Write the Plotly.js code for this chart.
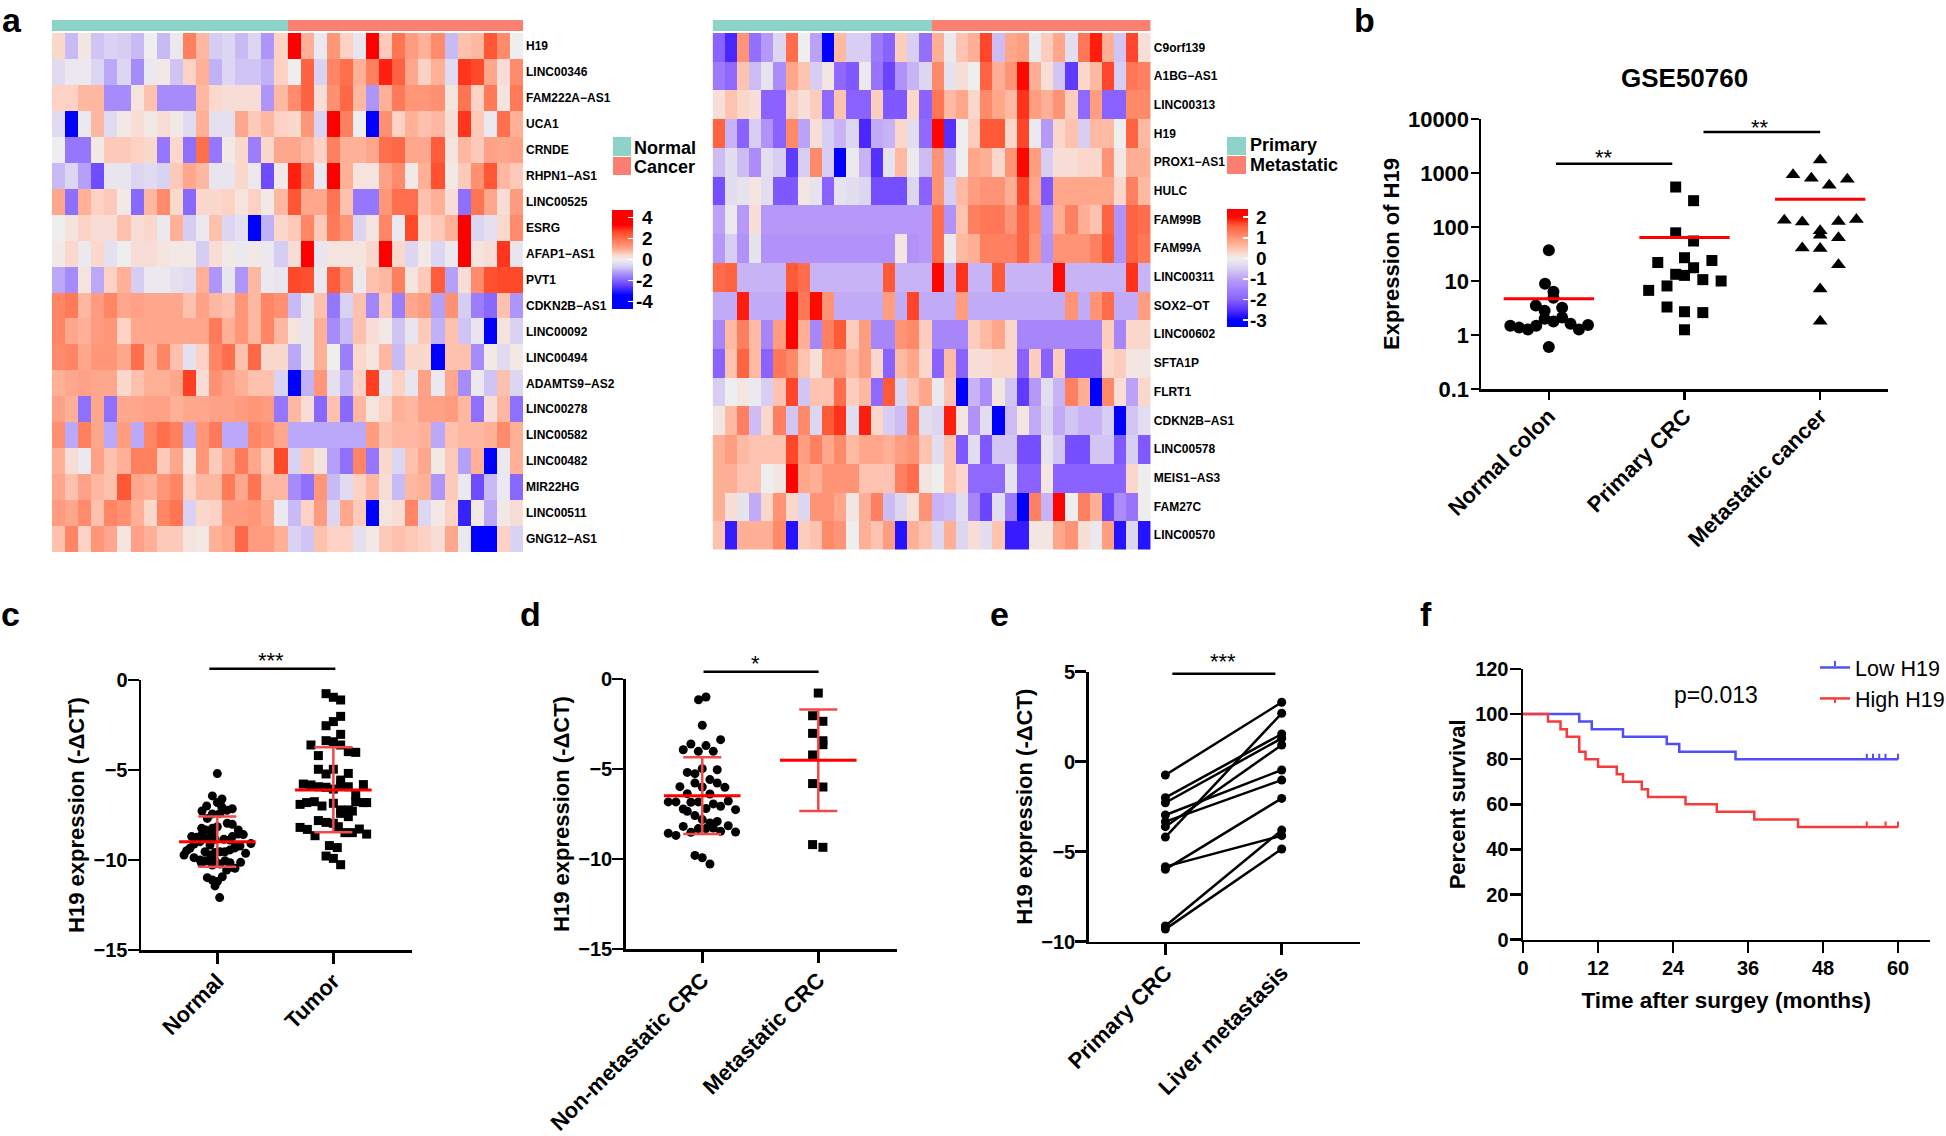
<!DOCTYPE html>
<html>
<head>
<meta charset="utf-8">
<script src="https://cdn.plot.ly/plotly-3.0.1.min.js"></script>
<style>html,body{margin:0;padding:0;background:#fff}</style>
</head>
<body>
<div id="plotArea" style="width:1946px;height:1136px"></div>
<script>
// panel a, left heatmap
var heat1Genes = ["H19","LINC00346","FAM222A−AS1","UCA1","CRNDE","RHPN1−AS1","LINC00525","ESRG","AFAP1−AS1","PVT1","CDKN2B−AS1","LINC00092","LINC00494","ADAMTS9−AS2","LINC00278","LINC00582","LINC00482","MIR22HG","LINC00511","GNG12−AS1"];
var heat1Rows = [
[0.4,-0.9,0.15,-0.8,-0.6,-0.7,-0.9,0,-0.9,-0.1,1.7,0.8,-0.7,-0.5,-0.9,-0.5,-1.3,0.5,3.6,0.9,-0.1,1.3,0.5,-0.2,3.8,0.6,1.9,1.2,0.9,1.5,-0.9,0.7,0.8,2.4,1.5,0],
[-0.4,-0.1,-0.1,-0.5,-1.1,-0.5,-1.4,-0.1,0.1,-0.8,0.5,0.9,-1,-0.5,-0.8,-0.8,-1,0.5,0,2.2,-0.6,1.6,2,0.9,1.7,3,2.2,1,0.5,0.9,-0.4,2.8,2.6,1,0.3,1.5],
[0.5,0.5,0.8,0.8,-1.4,-1.4,0.2,0.7,-1.4,-1.4,-1.4,0.8,0.4,0.3,0.3,0.3,-1.3,0.8,1.5,2.2,0.3,1.4,2.1,0.8,-1.3,0.9,1.8,1.3,1.3,1.4,0.2,1.9,0.5,1.8,0.2,1.8],
[-0.4,-3.7,-0.1,0.8,-0.4,0.1,0.3,0.1,0.3,0.1,-0.4,0.9,-0.3,-0.3,1,0.6,0.8,0.5,0.4,1.3,-0.6,3.6,1.7,0,-3.6,1.4,0.5,0.9,0.7,0.8,0.3,2.8,0.6,-0.1,2,0.9],
[0,-1.7,-1.7,0.1,0.6,0.6,0.5,0.4,-1.7,0.4,-1.8,2,-1.7,0.1,0.4,-1.6,0.4,1,1,0.8,0.5,1.7,0.9,0.9,1,2,2.1,1,1,2.3,0.2,0.8,0.6,1.1,1,1.1],
[-0.9,-0.5,-1.2,-2.3,-0.2,-0.2,-0.5,-0.4,-0.6,0.6,1,0.8,-0.2,-0.2,0.4,-0.1,-2.3,0.1,3,1.8,-0.1,3.6,0.9,0.2,0.2,1.1,1.5,0.1,0.9,2.5,0.1,0.6,1.4,2.4,0.8,0.6],
[1,-1.8,0.9,0.5,0.6,0.1,-1.9,0.8,1.5,0.4,-1.9,0.4,0.4,0.5,0.2,0.5,0.1,0.8,2.4,1,1,1.9,0.7,-1.7,-1.7,1.3,2,2,0.7,0.9,0.3,-1.8,1.9,1,0.3,1.2],
[0,0.2,0.5,0.3,0.3,0.7,0.3,0.4,-0.1,0.9,-0.7,-0.1,0.7,-0.5,-0.3,-4,-1,0.4,0.6,1.6,0.6,1.8,1.3,-0.5,0.2,1.6,-0.1,2.6,0.4,0.6,0.9,3.6,-0.5,-0.3,0.4,1.5],
[0.1,0.4,-0.1,0.4,-0.3,0,0.3,0.3,0.2,0.1,0.1,-0.7,0.3,0.1,-0.1,0.1,-0.1,-0.7,0.3,3.7,-0.2,0.2,0.2,0.2,0.4,3.7,0.4,-0.5,0.1,-0.5,-0.1,3.7,0.2,0.3,2.8,-0.2],
[-1.1,-1.4,0.2,-1.1,0.5,0.9,-0.7,-0.1,-0.1,-0.3,-0.4,0.9,-1.3,-0.2,-1.3,0.8,-0.1,-0.2,2.6,2.5,-0.1,2.3,1.4,-0.1,0.7,0.8,1.7,0.2,0.6,2.3,-1.2,0.3,1.5,2.5,2.6,2.6],
[1.6,1.8,0.8,1.2,1.6,1,1.1,1,1,1,0.7,1.1,0.8,0.7,1.3,0.8,1.6,1.4,-0.9,-0.2,0.7,-1.7,-0.6,0.7,-1.5,0.6,-1.6,1,1.2,-1.2,1.4,-0.7,-1.6,-1.9,0.7,-1.3],
[1.6,1,0.9,1.2,1.3,0.5,1,1,1,1,1,1,1.8,0.9,1.3,0.8,1.6,0.8,0.2,-0.2,0.9,-1.4,-0.9,0.7,0.3,0.1,-0.8,-0.2,0.6,-1,0.7,-0.8,-0.2,-4,0.2,-0.6],
[1.5,1.6,1,1.3,1.3,1,2,0.9,1.6,0.7,-0.3,0.5,1.6,2,0.7,2.1,0.4,0.4,-1.1,-0.2,0.9,0,-1.6,0.4,0.2,0.8,-0.9,0.4,0.4,-4,0.7,0.7,-1.4,0.1,-0.4,0.1],
[0.9,1,1.1,1,1,0.4,0.7,0.9,0.9,1,2.7,0.3,1.4,1.1,0.9,0.7,0.7,-0.6,-4,-1,1.3,-0.3,-1,0.5,2.7,-0.2,0.5,-0.2,1.1,-0.1,1,-1.4,-0.1,-0.8,0.7,-0.5],
[1.1,0.9,-1.8,1,-1.8,1,1,1.1,1.1,0.9,1,1,1.1,1.1,1.2,1.3,1.2,-1.7,0.8,0.3,-1.9,0.7,-1.9,0.8,0.2,0.5,0.9,0.8,1.1,1.1,1.2,0.8,-1.8,0.3,0.8,-1.8],
[1.4,-1.1,1.7,1,-1.1,1.2,-1.1,1.6,2,1.7,-1.1,1.3,1.8,-1.1,-1.1,1.6,1.4,1,-1.1,-1.1,-1.1,-1.1,-1.1,-1.1,1.2,0.7,0.8,0.8,0.9,-1.1,0.7,0.8,0.8,0.9,1.5,0.9],
[0.9,0.3,-0.1,1.1,0.7,0.9,1.7,1.7,0.6,1,0.2,1.3,0.6,1,1.8,1,0.6,2.6,-0.6,0.6,0.2,-1.2,-1.8,1.6,-1.7,0.4,-0.5,0.7,1,0.1,0.6,-1.2,0.9,-4,-0.1,0.9],
[1,0.7,1.1,0.8,0.7,2.4,1,0.9,1.3,1.6,0.5,0.8,0.8,1.8,1,1.9,0.8,0.8,-1.4,-1.8,1.3,-0.9,-0.4,0.5,0.8,0.3,-0.9,0.8,0.9,-1.3,0.6,-0.1,-2.3,-0.9,-0.1,-1.9],
[1.2,1,1.5,0.7,1.6,1.4,0.9,0.4,1.6,1.9,-0.6,0.4,0.5,1.2,1.2,1.3,1,-0.1,-0.9,0.5,1.2,-0.5,1,0.6,-4,0.2,0.3,1.6,-0.5,0.1,0.5,-2.9,0.1,-1.1,0.1,0.3],
[0.7,1.6,0.5,1.3,1,0.2,1.1,0.9,0.6,0.6,0.2,0.1,0.9,1,2.1,1.2,1.2,0.9,-0.6,-0.8,0.7,0.5,0.5,-0.3,0.1,0.6,0.7,0.6,0.5,0.3,1,-0.1,-4,-4,0.5,-0.6]
];
var heat1Ticks = [4,2,0,-2,-4];
var heat1TickText = ["4","2","0","-2","-4"];

// panel a, right heatmap
var heat2Genes = ["C9orf139","A1BG−AS1","LINC00313","H19","PROX1−AS1","HULC","FAM99B","FAM99A","LINC00311","SOX2−OT","LINC00602","SFTA1P","FLRT1","CDKN2B−AS1","LINC00578","MEIS1−AS3","FAM27C","LINC00570"];
var heat2Rows = [
[-2,-2.6,1,-1.8,-1.1,-0.4,1.4,0,-1,-3.3,0.6,-0.5,-0.5,-1.6,-2,0.4,-0.5,-1.8,0.7,-0.1,0.5,0.7,1.7,-0.7,0.8,0.9,-0.1,0.4,0.8,-0.3,1.3,1.9,0.7,-0.6,1.7,0.2],
[-1.6,-1.9,0.5,-0.7,-0.2,-1.3,0.8,0.5,-0.5,0.1,-1.9,-2.1,-0.1,-1.7,-2.3,-1.2,-0.8,-0.4,1.1,-0.2,0.2,0,1.5,0.7,1,2.1,0.7,0.2,-0.6,-2.4,0.3,0.6,1.7,-0.5,1.3,1.2],
[0.2,0.5,0.3,0.2,-2,-2,0.4,0.2,0.4,-1.9,0.5,-2,-2,0.4,-2.1,-2.1,0.3,-2,1.3,0.6,0.8,0.3,1.1,0.8,0.6,1.8,0.9,0.7,1,0.4,-1.9,0.9,-2,-2,1.1,1.1],
[1.5,-0.8,-2,-0.5,-1.2,-2,1.1,-1,0.2,-0.5,-0.8,-0.4,-2.6,-0.9,-0.8,0.3,-0.3,-1.9,2.2,-2.5,0,0.4,1.6,1.6,0.3,1.7,-0.1,-1.1,0.3,0.5,-0.5,0.6,0.6,0,1.5,0.6],
[-0.7,-0.3,-0.7,-1.3,-0.3,-0.5,-2.4,-0.5,1.1,-0.5,-3.3,-0.1,-0.8,-2.5,-0.2,0.6,-0.1,-0.7,1,-0.8,0,0.8,0.7,0.3,1,2.2,0.9,-0.5,0.2,0.2,0.3,0.3,1,0.1,0.7,0.7],
[-2.2,-0.3,-0.2,0.1,-0.3,-2.1,-2.1,0.1,-0.2,-2,-0.2,-0.3,-0.4,-2.2,-2.2,-2.2,-0.4,-2,1,-0.5,0.6,0.9,1,1,0.7,1.7,0.8,-2.1,0.8,0.8,0.8,0.8,0.8,0.3,1.2,0.6],
[-1,-0.1,-1.1,0.2,-1.1,-1.1,-1.1,-1.1,-1.1,-1.1,-1.1,-1.1,-1.1,-1.1,-1.1,-1.1,-1.1,-1.1,1.4,-1.2,0.5,1.2,1.3,1.3,1,1.5,1.1,-1.1,0.7,1.2,0.7,0.5,1.5,-1.2,1.5,1.4],
[-1.1,-0.5,-1.2,-0.2,-1.2,-1.2,-1.2,-1.2,-1.2,-1.2,-1.2,-1.2,-1.2,-1.2,-1.2,0.1,-1.2,-1.1,1.4,-0.1,0.6,0.7,1.2,1.2,1.2,1.5,1,-1.2,1,1,1,1.2,1.6,-1.2,1.5,1.3],
[1.4,1.5,-0.8,-0.8,-0.8,-0.8,1.6,1.4,-0.8,-0.8,-0.8,-0.8,-0.8,-0.8,1.6,-0.8,-0.8,-0.8,2.2,-0.8,1.8,-0.8,-0.8,1.6,-0.8,-0.8,-0.8,-0.8,2,-0.8,-0.8,-0.8,-0.8,-0.8,1.8,-0.8],
[-0.9,-0.9,1.9,-0.9,-0.9,-0.9,2.2,1.3,2,1,-0.9,-0.9,-0.9,-0.9,0.9,-0.9,1.7,-0.9,-0.9,-0.9,0.9,-0.9,-0.9,-0.9,-0.9,-0.9,-0.9,-0.9,-0.9,1,-0.9,1,1.4,-0.9,-0.9,0.9],
[-1.4,0.6,1.2,0.6,-1.4,0.9,2.3,0.7,-1.4,1.2,1.6,0.4,0.9,-1.4,-1.4,1,1.1,0.4,-1.4,-1.4,-1.4,0.4,0.6,0.8,0.3,-1.4,-1.4,-1.4,-1.4,-1.4,-1.4,-1.4,0.4,-1.4,0.3,0.3],
[-2,0.5,1.5,0.6,-2,1.3,1.1,0.5,0.2,0.9,0.9,0.6,0.9,0.3,-2,0.6,0.8,0.3,-2,0.6,-2,0.2,0.2,0.3,0.3,-2,0.4,-2,0.4,-2.1,-2.1,-2.1,0.3,0.4,0.1,0.1],
[-0.5,0,0.1,-0.1,-0.5,0.5,1.7,-0.6,0.5,0.5,1.4,0.4,0.6,-1.9,1.6,-0.4,0.5,0.8,-0.1,0.5,-3.3,-0.8,-1.3,0.1,-0.6,-2.4,-1.1,-0.3,-0.8,1.2,0.7,-3.3,1.1,0.2,-1,0.3],
[0.1,0.6,1.2,-0.7,0.3,1.2,-0.6,1.1,-0.4,1.6,1.8,-0.3,1.9,0.3,-0.5,-0.7,1.2,-0.3,-0.4,1.9,0.1,-1.2,-0.3,-3.3,-0.7,0.1,-0.9,-0.4,-0.9,-0.6,-0.8,-0.8,-0.5,-3.3,-0.6,-0.3],
[0.7,0.9,0.6,0.5,0.5,0.5,1.7,0.9,1.2,0.8,1.1,0.6,0.8,0.8,0.7,0.9,1,0.5,-0.3,0.5,-2.1,-0.3,-2.1,-0.6,-0.6,-2.2,-2.2,-0.2,-0.6,-2.2,-2.2,-0.6,-0.6,-2.1,-0.5,-2.1],
[0.7,0.7,0.5,0.5,0,0.1,2.3,0.8,0.7,1,1,1,0.5,0.5,0.5,1.2,1.4,0.1,0,0.5,0.3,-1.9,-1.9,-1.9,-0.2,-2,-2,0.1,-2,-2,-2,-2,-2,-2,0.3,0],
[0.7,0.2,-0.2,-0.9,0.3,1,0.3,-0.4,1,1,0.8,0.1,0.7,1.2,-0.7,-0.4,0.2,1,-0.8,-0.7,-0.3,-1.4,-2.3,-0.3,-1.6,-3.3,1.2,-0.8,2.3,0,1.2,0.7,-2.3,-1.3,-1.7,0],
[0.5,-2.7,0.7,0.7,0.7,1.1,-2.8,0.4,0.5,1.1,1,0,0.7,0.5,0.9,-2.8,0.7,0.5,-0.4,0.7,-0.4,0.2,-0.3,0.5,-2.7,-2.7,0.1,0.1,0.8,1,0.2,-0.1,0.9,-2.8,-0.4,-2.8]
];
var heat2Ticks = [2,1,0,-1,-2,-3];
var heat2TickText = ["2","1","0","-1","-2","-3"];

// annotation bars above the heatmaps, 0 = first group, 1 = second group
var groupBar = [0,0,0,0,0,0,0,0,0,0,0,0,0,0,0,0,0,0,1,1,1,1,1,1,1,1,1,1,1,1,1,1,1,1,1,1];

// panel b
var bCats = ["Normal colon","Primary CRC","Metastatic cancer"];
var bNormalOff = [0,-0.028,0.034,0.034,-0.096,-0.031,0.098,-0.031,0.098,0.034,-0.284,-0.219,-0.154,-0.093,0.16,0.222,0.289,0];
var bNormalVal = [37,8.9,6.3,4.9,3.5,2.8,3.2,2,2.1,1.77,1.49,1.37,1.27,1.49,1.62,1.27,1.53,0.6];
var bPrimaryOff = [-0.065,0.067,-0.065,0.067,0,-0.197,0.202,0.067,-0.065,0,0.135,0.27,-0.129,-0.264,-0.129,0,0.135,0];
var bPrimaryVal = [550,307,78,55,27,22,24,17.6,13.3,12.7,10.6,10,8.1,6.7,3.3,2.7,2.6,1.25];
var bMetaOff = [0,-0.2,-0.065,0.067,0.2,-0.264,-0.132,0.135,0.267,0,0,0.135,-0.132,0,0.135,0,0];
var bMetaVal = [1740,931,796,591,764,133,124,127,137,85,70,63,41,40,20,7.1,1.8];
var bMeans = [4.7,64,325];

// panel c
var cCats = ["Normal","Tumor"];
var cNormalOff = [0,-0.043,0.04,0,-0.092,0.037,0.129,0.083,-0.132,-0.043,0.023,-0.086,0.086,0.129,-0.135,-0.043,-0.101,0,0.181,-0.221,-0.178,-0.135,-0.043,0.181,0.224,0.129,-0.086,-0.02,0.057,0.109,-0.149,-0.201,-0.063,0.29,0.152,0.195,-0.236,-0.264,-0.106,-0.02,0.066,0.109,0.152,-0.287,0.244,-0.057,0.023,-0.201,-0.149,-0.106,-0.063,-0.02,0.066,0.109,0.201,-0.135,-0.043,0.023,0.08,0.152,0.109,-0.086,0.043,-0.043,0,-0.02,0.02];
var cNormalVal = [-5.2,-6.44,-6.61,-6.81,-7,-7.04,-7.15,-7.24,-7.28,-7.44,-7.41,-7.69,-7.96,-8.02,-8.24,-8.24,-8.33,-8.15,-8.33,-8.7,-8.74,-8.61,-8.52,-8.56,-8.59,-8.7,-8.81,-8.85,-8.85,-8.89,-8.98,-9.11,-9.17,-9.09,-9.26,-9.22,-9.35,-9.48,-9.54,-9.59,-9.54,-9.44,-9.33,-9.72,-9.63,-9.72,-9.54,-9.87,-10,-10.04,-10.09,-10.04,-10.04,-10.15,-10.13,-10.19,-10.28,-10.22,-10.56,-10.46,-10.41,-10.98,-10.93,-11.11,-11.2,-11.44,-12.09];
var cTumorOff = [-0.063,0,0.063,0.063,0,-0.063,0.063,-0.063,0,-0.193,0.063,0.129,0.193,-0.129,-0.129,0,-0.063,0.129,0.063,0.063,-0.259,-0.193,-0.129,-0.063,0.129,0.259,0,0.193,0.259,0.193,0.287,-0.287,-0.23,-0.164,-0.098,0,0.063,0.129,0.164,0.063,0.129,-0.129,-0.063,0,0.043,-0.287,-0.224,-0.158,0.1,0.164,0.224,0.287,-0.034,0.034,-0.063,0,0.063];
var cTumorVal = [-0.76,-0.96,-1.11,-2.02,-2.31,-2.54,-3.02,-3.37,-3.43,-3.61,-3.61,-3.98,-4.02,-4.2,-4.96,-4.96,-5.22,-5.19,-5.56,-5.83,-5.78,-5.83,-5.93,-5.96,-5.93,-5.81,-6.06,-6.39,-6.81,-6.76,-6.81,-6.91,-6.81,-6.76,-7,-6.85,-7.22,-7.22,-7.28,-7.41,-7.59,-7.81,-7.91,-7.96,-8.15,-8.19,-8.3,-8.65,-8.48,-8.48,-8.28,-8.56,-9.2,-9.31,-9.78,-9.91,-10.26];
var cMeans = [-8.98,-6.11], cUpper = [-7.59,-3.74], cLower = [-10.37,-8.46];

// panel d
var dCats = ["Non-metastatic CRC","Metastatic CRC"];
var dNonMetaOff = [0.032,-0.032,0,0.158,-0.098,-0.164,0.032,-0.034,0.095,0,0.129,-0.129,-0.063,0.066,-0.193,-0.063,0.129,0.195,0,-0.129,0.066,-0.293,-0.227,-0.098,-0.034,0.224,0.095,0.158,0.032,-0.164,-0.129,0.287,-0.063,0,0.129,0.066,-0.164,0.224,-0.034,0.032,0.095,0.158,-0.098,-0.293,-0.227,0.287,-0.063,0,0.066];
var dNonMetaVal = [-1,-1.15,-2.57,-3.37,-3.61,-3.93,-3.7,-4.02,-4.02,-4.98,-5.04,-5.19,-5.26,-5.59,-5.98,-5.78,-5.78,-6.02,-6,-6.37,-6.39,-6.83,-6.83,-6.85,-6.83,-6.78,-6.94,-7.07,-7.2,-7.22,-7.35,-7.26,-7.59,-7.81,-7.91,-8,-8.19,-8.15,-8.31,-8.31,-8.28,-8.46,-8.52,-8.57,-8.69,-8.5,-9.8,-9.93,-10.28];
var dMetaOff = [0,-0.049,0.04,-0.049,0.04,0.04,-0.049,-0.049,0.04,-0.049,0.04];
var dMetaVal = [-0.78,-2.04,-2.35,-3.02,-3.43,-3.65,-4.22,-5.81,-6,-9.2,-9.35];
var dMeans = [-6.48,-4.52], dUpper = [-4.35,-1.7], dLower = [-8.61,-7.33];

// panel e, paired samples
var eCats = ["Primary CRC","Liver metastasis"];
var ePrimary = [-0.74,-2,-2.28,-2.96,-3.33,-3.61,-4.19,-5.83,-5.98,-9.13,-9.3];
var eLiver = [3.3,1.54,1.3,-0.46,-1.02,0.93,2.69,-4.11,-2.04,-3.8,-4.85];

// panel f, survival steps
var lowMonths = [0,9,11,16,23,25,34,60];
var lowSurvival = [100,96.7,93.3,90,86.7,83.3,80,80];
var lowCensored = [55,56,57,58,60];
var highMonths = [0,4,6,7,9,10,12,15,16,19,20,26,31,37,44,60];
var highSurvival = [100,96.7,93.3,90,83.3,80,76.7,73.3,70,66.7,63.3,60,56.7,53.3,50,50];
var highCensored = [55,58,60];

var W = 1946, H = 1136;
var FONT = "Liberation Sans";
var SIGCOLOR = "#000", MEANRED = "#ff0000", BARRED = "#f24a4a";

function domX(l, r) { return [l / W, r / W]; }
function domY(t, b) { return [1 - b / H, 1 - t / H]; }
function px(x) { return x / W; }
function py(y) { return 1 - y / H; }

function scaleStops(stops, zmin, zmax) {
    return stops.map(function (s) { return [(s[0] - zmin) / (zmax - zmin), s[1]]; });
}
var heat1Scale = scaleStops([[-4.7,"#0000ff"],[-3.4,"#0000ff"],[-2.4,"#6a45ff"],[-1.4,"#a68cfb"],[-0.7,"#d6cdf3"],[0,"#efeeee"],[0.5,"#fdd2c4"],[1,"#ffa78c"],[1.8,"#ff7a58"],[2.6,"#ff4a2a"],[3.3,"#ff0000"],[4.7,"#ff0000"]], -4.7, 4.7);
var heat2Scale = scaleStops([[-3.34,"#0000ff"],[-3,"#0000ff"],[-2.6,"#4a26ff"],[-2,"#8a62ff"],[-1.1,"#b598f8"],[-0.7,"#cdbcf4"],[-0.3,"#e2deef"],[0,"#efeeee"],[0.3,"#fbd6ca"],[0.7,"#ffaf96"],[1.1,"#ff8a6a"],[1.6,"#ff5a38"],[2,"#ff0a00"],[2.4,"#ff0000"]], -3.34, 2.4);
var barScale = [[0,"#8dd3c7"],[0.5,"#8dd3c7"],[0.5,"#fb8072"],[1,"#fb8072"]];

var traces = [];

function addHeat(rows, genes, scale, zmin, zmax, ticks, cb, xa, ya) {
    traces.push({
        type: "heatmap", z: rows, y: genes, xaxis: xa, yaxis: ya,
        colorscale: scale, zmin: zmin, zmax: zmax, hoverinfo: "skip",
        colorbar: {
            x: px(cb.l), xanchor: "left", y: py(cb.t), yanchor: "top",
            thickness: cb.w, thicknessmode: "pixels", len: cb.h, lenmode: "pixels",
            xpad: 0, ypad: 0, outlinewidth: 0, tickmode: "array", tickvals: ticks,
            ticks: "inside", ticklen: 5, tickcolor: "#fff", tickwidth: 1.5, showticklabels: false
        }
    });
}
function addBar(xa, ya) {
    traces.push({ type: "heatmap", z: [groupBar], xaxis: xa, yaxis: ya, colorscale: barScale, zmin: 0, zmax: 1, showscale: false, hoverinfo: "skip" });
}

var cb1 = { l: 612, t: 210, w: 21, h: 99, labelRight: 655 };
var cb2 = { l: 1227, t: 209, w: 21, h: 118, labelRight: 1269 };
addHeat(heat1Rows, heat1Genes, heat1Scale, -4.7, 4.7, heat1Ticks, cb1, "x", "y");
addBar("x2", "y2");
addHeat(heat2Rows, heat2Genes, heat2Scale, -3.34, 2.4, heat2Ticks, cb2, "x3", "y3");
addBar("x4", "y4");

function jitter(cat, offs) { return offs.map(function (o) { return cat + o; }); }
function dots(cat, offs, vals, symbol, size, xa, ya) {
    traces.push({ x: jitter(cat, offs), y: vals, mode: "markers", type: "scatter", xaxis: xa, yaxis: ya, cliponaxis: false, hoverinfo: "skip",
        marker: { symbol: symbol, size: size, color: "#000" } });
}
function seg(x, y, color, width, xa, ya) {
    traces.push({ x: x, y: y, mode: "lines", type: "scatter", xaxis: xa, yaxis: ya, cliponaxis: false, hoverinfo: "skip",
        line: { color: color, width: width } });
}
function meanSd(cat, mean, up, low, xa, ya) {
    seg([cat, cat], [low, up], BARRED, 2.5, xa, ya);
    seg([cat - 0.164, cat + 0.164], [up, up], BARRED, 2.5, xa, ya);
    seg([cat - 0.164, cat + 0.164], [low, low], BARRED, 2.5, xa, ya);
    seg([cat - 0.33, cat + 0.33], [mean, mean], MEANRED, 3, xa, ya);
}

// panel b
dots(0, bNormalOff, bNormalVal, "circle", 12, "x5", "y5");
dots(1, bPrimaryOff, bPrimaryVal, "square", 11, "x5", "y5");
dots(2, bMetaOff, bMetaVal, "triangle-up", 13, "x5", "y5");
bMeans.forEach(function (m, i) { seg([i - 0.333, i + 0.333], [m, m], MEANRED, 3, "x5", "y5"); });
seg([0.053, 0.91], [1490, 1490], SIGCOLOR, 2.5, "x5", "y5");
seg([1.14, 2], [5730, 5730], SIGCOLOR, 2.5, "x5", "y5");

// panel c
dots(0, cNormalOff, cNormalVal, "circle", 9, "x6", "y6");
dots(1, cTumorOff, cTumorVal, "square", 9, "x6", "y6");
[0, 1].forEach(function (i) { meanSd(i, cMeans[i], cUpper[i], cLower[i], "x6", "y6"); });

// panel d
dots(0, dNonMetaOff, dNonMetaVal, "circle", 9, "x7", "y7");
dots(1, dMetaOff, dMetaVal, "square", 9, "x7", "y7");
[0, 1].forEach(function (i) { meanSd(i, dMeans[i], dUpper[i], dLower[i], "x7", "y7"); });

// panel e
ePrimary.forEach(function (v, i) {
    traces.push({ x: [0, 1], y: [v, eLiver[i]], mode: "lines+markers", type: "scatter", xaxis: "x8", yaxis: "y8", cliponaxis: false, hoverinfo: "skip",
        line: { color: "#000", width: 2.5 }, marker: { size: 9, color: "#000" } });
});
seg([0.06, 0.946], [4.89, 4.89], SIGCOLOR, 2.5, "x8", "y8");

// panel f
function survival(name, months, surv, censored, color) {
    traces.push({ x: months, y: surv, name: name, mode: "lines", type: "scatter", xaxis: "x9", yaxis: "y9", showlegend: true, legendgroup: name, hoverinfo: "skip",
        line: { shape: "hv", color: color, width: 2.5 } });
    var yAt = surv[surv.length - 1];
    traces.push({ x: censored, y: censored.map(function () { return yAt; }), mode: "markers", type: "scatter", xaxis: "x9", yaxis: "y9", showlegend: false, hoverinfo: "skip",
        marker: { size: 1, color: color },
        error_y: { type: "data", symmetric: false, array: censored.map(function () { return 2.4; }), arrayminus: censored.map(function () { return 0; }), width: 0, thickness: 2, color: color } });
}
survival("Low H19", lowMonths, lowSurvival, lowCensored, "#4f4ff5");
survival("High H19", highMonths, highSurvival, highCensored, "#f53c3c");

traces.forEach(function (t) { if (t.showlegend === undefined) t.showlegend = false; });

var tickBold = { family: FONT, size: 20, weight: 700, color: "#000" };
var titleBold = { family: FONT, size: 22, weight: 700, color: "#000" };

function axis(extra) {
    var a = { showgrid: false, zeroline: false, showline: true, linecolor: "#000", linewidth: 2.5, ticks: "outside", ticklen: 11, tickwidth: 2.5, tickcolor: "#000", tickfont: tickBold, automargin: false, fixedrange: true, ticklabelstandoff: -4 };
    for (var k in extra) a[k] = extra[k];
    return a;
}
function catAxis(dom, anchor, range, cats) {
    var vals = cats.map(function (c, i) { return i; });
    return axis({ domain: dom, anchor: anchor, range: range, tickmode: "array", tickvals: vals, ticktext: cats, tickangle: -45,
        tickfont: { family: FONT, size: 22, weight: 700, color: "#000" } });
}
function heatY(dom, anchor) {
    return { domain: dom, anchor: anchor, autorange: "reversed", type: "category", side: "right", showgrid: false, zeroline: false, showline: false, ticks: "", ticklen: 0, automargin: false, tickmode: "linear", dtick: 1, ticklabelstandoff: 2,
        tickfont: { family: FONT, size: 12, weight: 700, color: "#000" } };
}
function hidden(dom, anchor) {
    return { domain: dom, anchor: anchor, visible: false };
}
function yTitle(text, standoff) {
    return { text: text, font: titleBold, standoff: standoff };
}

var layout = {
    width: W, height: H, autosize: false, paper_bgcolor: "#fff", plot_bgcolor: "rgba(0,0,0,0)",
    margin: { l: 0, r: 0, t: 0, b: 0, pad: 0, autoexpand: false },
    hovermode: false, showlegend: true,
    legend: { x: px(1815), xanchor: "left", y: py(647), yanchor: "top", bgcolor: "rgba(0,0,0,0)", borderwidth: 0, itemwidth: 30, tracegroupgap: 15, traceorder: "normal", font: { family: FONT, size: 21.5, color: "#000" } },

    xaxis: hidden(domX(52, 523), "y"),
    yaxis: heatY(domY(33, 552), "x"),
    xaxis2: hidden(domX(52, 523), "y2"),
    yaxis2: hidden(domY(20, 31), "x2"),
    xaxis3: hidden(domX(712.6, 1150.8), "y3"),
    yaxis3: heatY(domY(33, 549.5), "x3"),
    xaxis4: hidden(domX(712.6, 1150.8), "y4"),
    yaxis4: hidden(domY(20, 31), "x4"),

    xaxis5: axis({ domain: domX(1481, 1888), anchor: "y5", range: [-0.5, 2.5], tickmode: "array", tickvals: [0, 1, 2], ticktext: bCats, tickangle: -45, ticklen: 8, ticklabelstandoff: -5,
        tickfont: { family: FONT, size: 22, weight: 700, color: "#000" } }),
    yaxis5: axis({ domain: domY(119, 389), anchor: "x5", type: "log", range: [-1, 4], tickmode: "array", tickvals: [0.1, 1, 10, 100, 1000, 10000], ticktext: ["0.1", "1", "10", "100", "1000", "10000"], ticklen: 8, ticklabelstandoff: -3,
        tickfont: { family: FONT, size: 22, weight: 700, color: "#000" }, title: yTitle("Expression of H19", 2) }),

    xaxis6: catAxis(domX(141, 412), "y6", [-0.658, 1.678], cCats),
    yaxis6: axis({ domain: domY(680, 950), anchor: "x6", range: [-15, 0], tickmode: "array", tickvals: [-15, -10, -5, 0], title: yTitle("H19 expression (-ΔCT)", 3) }),

    xaxis7: catAxis(domX(625.7, 896.7), "y7", [-0.66, 1.676], dCats),
    yaxis7: axis({ domain: domY(679, 949), anchor: "x7", range: [-15, 0], tickmode: "array", tickvals: [-15, -10, -5, 0], title: yTitle("H19 expression (-ΔCT)", 3) }),

    xaxis8: catAxis(domX(1088.7, 1360), "y8", [-0.659, 1.673], eCats),
    yaxis8: axis({ domain: domY(671.7, 941.7), anchor: "x8", range: [-10, 5], tickmode: "array", tickvals: [-10, -5, 0, 5], title: yTitle("H19 expression (-ΔCT)", 3) }),

    xaxis9: axis({ domain: domX(1523, 1929.6), anchor: "y9", range: [0, 65.05], tickmode: "array", tickvals: [0, 12, 24, 36, 48, 60], ticklabelstandoff: -2,
        title: { text: "Time after surgey (months)", font: { family: FONT, size: 22.5, weight: 700, color: "#000" }, standoff: 14 } }),
    yaxis9: axis({ domain: domY(669, 939.7), anchor: "x9", range: [0, 120], tickmode: "array", tickvals: [0, 20, 40, 60, 80, 100, 120], ticklabelstandoff: -3, title: yTitle("Percent survival", 4) }),

    annotations: [],
    shapes: []
};

function note(text, x, y, size, bold, anchor) {
    layout.annotations.push({ text: text, xref: "paper", yref: "paper", x: px(x), y: py(y), xanchor: anchor || "center", yanchor: "middle", showarrow: false,
        font: { family: FONT, size: size, weight: bold ? 700 : 400, color: "#000" } });
}
// panel letters sit against the top edge, so they hang from y instead of centring on it
function letter(text, x, y) {
    layout.annotations.push({ text: text, xref: "paper", yref: "paper", x: px(x), y: py(y), xanchor: "left", yanchor: "top", showarrow: false, borderpad: 0,
        font: { family: FONT, size: 34, weight: 700, color: "#000" } });
}
letter("a", 1, 0);
letter("b", 1353, 0);
letter("c", 0, 594);
letter("d", 519, 594);
letter("e", 989, 594);
letter("f", 1419, 594);

note("GSE50760", 1684.6, 78, 26, true);

// significance stars
note("**", 1604, 158, 22, false);
note("**", 1760, 127, 22, false);
note("***", 271, 660, 22, false);
note("*", 755, 663, 22, false);
note("***", 1223, 661, 22, false);

note("p=0.013", 1716, 695, 23, false);

// significance bars of c and d lie above the axis range, so they hang from the paper
function sigBar(x0, x1, xa, y) {
    layout.shapes.push({ type: "line", xref: xa, yref: "paper", x0: x0, x1: x1, y0: py(y), y1: py(y), line: { color: SIGCOLOR, width: 2.5 } });
}
sigBar(-0.069, 1.017, "x6", 668.7);
sigBar(0.011, 1.003, "x7", 671.7);

// annotation legends of the heatmaps
function swatch(x0, y0, x1, y1, color) {
    layout.shapes.push({ type: "rect", xref: "paper", yref: "paper", x0: px(x0), x1: px(x1), y0: py(y0), y1: py(y1), fillcolor: color, line: { width: 0 } });
}
swatch(613, 137, 631, 156, "#8dd3c7");
swatch(613, 157, 631, 175, "#fb8072");
note("Normal", 632, 148, 18, true, "left");
note("Cancer", 632, 167, 18, true, "left");
swatch(1227, 137, 1246, 155, "#8dd3c7");
swatch(1227, 156, 1246, 174, "#fb8072");
note("Primary", 1248, 145, 18, true, "left");
note("Metastatic", 1248, 165, 18, true, "left");

// colorbars: white ticks on the left edge too, labels right aligned
function barLabels(cb, ticks, labels, zmin, zmax) {
    ticks.forEach(function (v, i) {
        var y = cb.t + (zmax - v) / (zmax - zmin) * cb.h;
        layout.shapes.push({ type: "line", xref: "paper", yref: "paper", x0: px(cb.l), x1: px(cb.l + 5), y0: py(y), y1: py(y), line: { color: "#fff", width: 1.5 } });
        note(labels[i], cb.labelRight, y, 19, true, "right");
    });
}
barLabels(cb1, heat1Ticks, heat1TickText, -4.7, 4.7);
barLabels(cb2, heat2Ticks, heat2TickText, -3.34, 2.4);

// censor tick on the legend samples of panel f
[666, 703].forEach(function (y, i) {
    var c = i === 0 ? "#4f4ff5" : "#f53c3c";
    layout.shapes.push({ type: "line", xref: "paper", yref: "paper", x0: px(1835), x1: px(1835), y0: py(y), y1: py(y - 5), line: { color: c, width: 2 } });
});

Plotly.newPlot("plotArea", traces, layout, { staticPlot: true, displayModeBar: false });
</script>
</body>
</html>
